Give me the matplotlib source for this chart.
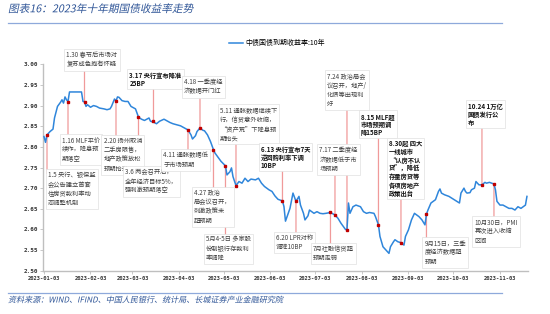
import matplotlib
matplotlib.use('Agg')
import matplotlib.pyplot as plt
import matplotlib.dates as mdates
import matplotlib.transforms as mtransforms
from matplotlib.font_manager import FontProperties
from matplotlib.textpath import TextPath
from matplotlib.patches import PathPatch
from matplotlib.lines import Line2D
import pandas as pd

plt.rcParams['font.family'] = ['Noto Sans CJK SC', 'DejaVu Sans']

# 中债国债到期收益率:10年 (%)
dates = [
    '2023-01-03', '2023-01-04', '2023-01-05', '2023-01-07', '2023-01-09', '2023-01-10', '2023-01-12',
    '2023-01-14', '2023-01-15', '2023-01-16', '2023-01-17', '2023-01-18', '2023-01-19', '2023-01-20',
    '2023-01-27', '2023-01-28', '2023-01-29', '2023-01-30', '2023-01-31', '2023-02-01', '2023-02-03',
    '2023-02-05', '2023-02-07', '2023-02-09', '2023-02-12', '2023-02-14', '2023-02-16', '2023-02-17',
    '2023-02-19', '2023-02-20', '2023-02-21', '2023-02-22', '2023-02-24', '2023-02-26', '2023-02-28',
    '2023-03-02', '2023-03-05', '2023-03-06', '2023-03-07', '2023-03-09', '2023-03-11', '2023-03-14',
    '2023-03-15', '2023-03-17', '2023-03-19', '2023-03-21', '2023-03-24', '2023-03-26', '2023-03-28',
    '2023-03-30', '2023-04-01', '2023-04-04', '2023-04-06', '2023-04-09', '2023-04-11', '2023-04-12',
    '2023-04-14', '2023-04-15', '2023-04-17', '2023-04-19', '2023-04-20', '2023-04-22', '2023-04-24',
    '2023-04-26', '2023-04-27', '2023-04-29', '2023-05-01', '2023-05-04', '2023-05-05', '2023-05-07',
    '2023-05-08', '2023-05-09', '2023-05-11', '2023-05-13', '2023-05-15', '2023-05-17', '2023-05-19',
    '2023-05-21', '2023-05-24', '2023-05-26', '2023-05-28', '2023-05-30', '2023-06-02', '2023-06-04',
    '2023-06-06', '2023-06-08', '2023-06-11', '2023-06-12', '2023-06-13', '2023-06-16', '2023-06-18',
    '2023-06-20', '2023-06-22', '2023-06-23', '2023-06-25', '2023-06-26', '2023-06-28', '2023-06-29',
    '2023-07-02', '2023-07-04', '2023-07-06', '2023-07-08', '2023-07-10', '2023-07-13', '2023-07-16',
    '2023-07-18', '2023-07-20', '2023-07-23', '2023-07-24', '2023-07-25', '2023-07-26', '2023-07-27',
    '2023-07-28', '2023-07-30', '2023-08-02', '2023-08-04', '2023-08-06', '2023-08-08', '2023-08-11',
    '2023-08-12', '2023-08-14', '2023-08-15', '2023-08-17', '2023-08-18', '2023-08-21', '2023-08-22',
    '2023-08-24', '2023-08-25', '2023-08-27', '2023-08-29', '2023-08-31', '2023-09-01', '2023-09-03',
    '2023-09-05', '2023-09-07', '2023-09-10', '2023-09-12', '2023-09-14', '2023-09-15', '2023-09-16',
    '2023-09-18', '2023-09-21', '2023-09-23', '2023-09-24', '2023-09-25', '2023-09-27', '2023-09-30',
    '2023-10-07', '2023-10-08', '2023-10-10', '2023-10-11', '2023-10-12', '2023-10-14', '2023-10-15',
    '2023-10-17', '2023-10-18', '2023-10-20', '2023-10-22', '2023-10-24', '2023-10-25', '2023-10-27',
    '2023-10-30', '2023-10-31', '2023-11-01', '2023-11-03', '2023-11-05', '2023-11-07', '2023-11-09',
    '2023-11-11', '2023-11-13', '2023-11-15', '2023-11-17', '2023-11-20', '2023-11-21',
]
yields = [
    2.825, 2.811, 2.829, 2.837, 2.843, 2.870, 2.898,
    2.908, 2.914, 2.906, 2.921, 2.914, 2.910, 2.933,
    2.933, 2.933, 2.910, 2.909, 2.898, 2.902, 2.896,
    2.900, 2.898, 2.894, 2.892, 2.890, 2.892, 2.898,
    2.916, 2.911, 2.921, 2.920, 2.912, 2.910, 2.910,
    2.898, 2.892, 2.882, 2.872, 2.867, 2.864, 2.870,
    2.862, 2.860, 2.856, 2.862, 2.867, 2.863, 2.859,
    2.856, 2.854, 2.851, 2.847, 2.841, 2.829, 2.819,
    2.827, 2.837, 2.846, 2.840, 2.839, 2.829, 2.813,
    2.793, 2.785, 2.775, 2.765, 2.754, 2.732, 2.740,
    2.749, 2.728, 2.706, 2.716, 2.712, 2.724, 2.716,
    2.722, 2.720, 2.724, 2.712, 2.704, 2.696, 2.692,
    2.681, 2.673, 2.669, 2.655, 2.620, 2.651, 2.688,
    2.668, 2.680, 2.659, 2.639, 2.623, 2.633, 2.647,
    2.639, 2.643, 2.639, 2.638, 2.639, 2.641, 2.635,
    2.627, 2.615, 2.600, 2.599, 2.664, 2.639, 2.647,
    2.655, 2.659, 2.655, 2.643, 2.639, 2.641, 2.639,
    2.631, 2.611, 2.583, 2.558, 2.554, 2.542, 2.558,
    2.570, 2.575, 2.570, 2.568, 2.562, 2.583, 2.599,
    2.623, 2.639, 2.631, 2.623, 2.611, 2.637, 2.647,
    2.664, 2.672, 2.692, 2.698, 2.688, 2.684, 2.680,
    2.664, 2.688, 2.700, 2.692, 2.688, 2.689, 2.696,
    2.700, 2.716, 2.708, 2.708, 2.714, 2.712, 2.714,
    2.710, 2.696, 2.668, 2.659, 2.659, 2.655, 2.651,
    2.651, 2.647, 2.655, 2.651, 2.659, 2.680,
]

event_dates = ['2023-01-05', '2023-01-19', '2023-01-30', '2023-02-20', '2023-03-07', '2023-03-17',
               '2023-04-09', '2023-04-17', '2023-04-26', '2023-05-04', '2023-05-11', '2023-06-11',
               '2023-06-20', '2023-07-13', '2023-07-16', '2023-07-24', '2023-08-14', '2023-08-29',
               '2023-09-15', '2023-10-22', '2023-10-30']
event_values = [2.828, 2.909, 2.909, 2.911, 2.872, 2.862, 2.841, 2.846, 2.793, 2.754, 2.706,
                2.669, 2.668, 2.641, 2.635, 2.599, 2.611, 2.568, 2.637, 2.708, 2.710]
event_labels = [
    '1.5 央行、银保监\n会公告建立首套\n住房贷款利率动\n态调整机制',
    '1.16 MLF平价\n续作，降息预\n期落空',
    '1.30 春节后市场对\n复苏成色抱有怀疑',
    '2.20 扬州取消\n二手房限售，\n地产政策放松\n预期抬升',
    '3.6 两会召开后，\n全年经济目标5%，\n强刺激预期落空',
    '3.17 央行宣布降准\n25BP',
    '4.11 通胀数据低\n于市场预期',
    '4.18 一季度经\n济数据开门红',
    '4.27 政治\n局会议召开，\n刺激政策未\n超预期',
    '5月4-5日 多家股\n份制银行存款利\n率调降',
    '5.11 通胀数据继续下\n行，信贷意外收缩，\n“资产荒”下降息预\n期抬头',
    '6.13 央行宣布7天\n逆回购利率下调\n10BP',
    '6.20 LPR对称\n调降10BP',
    '7月社融信贷超\n预期走弱',
    '7.17 二季度经\n济数据低于市\n场预期',
    '7.24 政治局会\n议召开，地产/\n化债等出现利\n好',
    '8.15 MLF超\n市场预期调\n降15BP',
    '8.30起 四大\n一线城市\n“认房不认\n贷”，降低\n存量房贷等\n各项房地产\n政策出台',
    '9月15日，三季\n度经济数据超\n预期',
    '10.24 1万亿\n国债发行公\n布',
    '10月30日，PMI\n再次进入收缩\n区间',
]

x_ticks = ['2023-01-03', '2023-02-03', '2023-03-03', '2023-04-03', '2023-05-03', '2023-06-03',
           '2023-07-03', '2023-08-03', '2023-09-03', '2023-10-03', '2023-11-03']
y_ticks = [2.50, 2.55, 2.60, 2.65, 2.70, 2.75, 2.80, 2.85, 2.90, 2.95, 3.00]

# layout of annotation boxes: text left / top in pixels, bold flag
box_layout = [
    (48, 171.5, False), (62, 136.5, False), (66.5, 51.5, False), (103.5, 137.3, False),
    (125, 168.3, False), (129.3, 71.6, True), (163.3, 151.6, False), (184, 78.3, False),
    (194, 189.3, False), (206, 235.9, False), (220, 106.6, False), (260.7, 145.6, True),
    (275.7, 233.9, False), (312.7, 244.9, False), (319.3, 146.6, False), (326.7, 72.6, False),
    (361, 112.6, True), (389, 139.9, True), (424.3, 239.3, False), (467.7, 102.6, True),
    (474.3, 218.3, False),
]

W, H = 550, 314
DPI = 100


def fx(px):
    return px / W


def fy(py):
    return 1 - py / H


fig = plt.figure(figsize=(W / DPI, H / DPI), dpi=DPI)
fig.patch.set_facecolor('white')

ax_left, ax_right, ax_top, ax_bottom = 43, 528, 64.3, 270.7
ax = fig.add_axes([fx(ax_left), fy(ax_bottom), (ax_right - ax_left) / W, (ax_bottom - ax_top) / H])

x = pd.to_datetime(dates)
line, = ax.plot(x, yields, color='#2F86DB', lw=1.1, zorder=3)

start = mdates.date2num(pd.Timestamp('2023-01-03'))
ax.set_xlim(start - 0.67, start + 322.7)
ax.set_ylim(2.50, 3.00)
ax.set_yticks(y_ticks)
ax.set_yticklabels(['%.2f' % v for v in y_ticks])
ax.set_xticks(pd.to_datetime(x_ticks))
ax.set_xticklabels(x_ticks)

for s in ['top', 'right']:
    ax.spines[s].set_visible(False)
for s in ['left', 'bottom']:
    ax.spines[s].set_color('#BFBFBF')
    ax.spines[s].set_linewidth(1.0)
ax.tick_params(axis='both', direction='out', length=2, width=0.6, color='#BFBFBF', pad=1.5)
for lab in ax.get_yticklabels():
    lab.set_fontfamily('DejaVu Sans Mono')
    lab.set_fontsize(4.3)
    lab.set_fontweight('bold')
    lab.set_color('#333333')
for lab in ax.get_xticklabels():
    lab.set_fontfamily('DejaVu Sans Mono')
    lab.set_fontsize(3.9)
    lab.set_fontweight('bold')
    lab.set_color('#333333')

# event markers and red guide lines
blend = mtransforms.blended_transform_factory(ax.transData, fig.transFigure)
ev_x = mdates.date2num(pd.to_datetime(event_dates))
for d, v, lab, (lx, ty, bold) in zip(ev_x, event_values, event_labels, box_layout):
    ax.annotate('', xy=(d, v), xycoords='data', xytext=(d, fy(ty + 2)), textcoords=blend,
                arrowprops=dict(arrowstyle='-', color='#F09A9A', lw=0.9, shrinkA=0, shrinkB=0),
                annotation_clip=False, zorder=2)
    fig.text(fx(lx), fy(ty), lab, ha='left', va='top', fontsize=4.5, linespacing=1.2,
             color='#111111' if bold else '#404040', fontweight='bold' if bold else 'normal',
             bbox=dict(boxstyle='square,pad=0.35', fc='white', ec='#E0E0E0', lw=0.5), zorder=5)
ax.plot(ev_x, event_values, 's', color='#C00000', ms=1.8, zorder=4)

# legend
ax.legend([Line2D([0], [0], color='#2F86DB', lw=1.1)], ['中债国债到期收益率:10年'],
          loc='center left', bbox_to_anchor=(fx(229), fy(43)), bbox_transform=fig.transFigure,
          frameon=False, fontsize=5.0, handlelength=2.0, handletextpad=0.3, borderpad=0,
          borderaxespad=0)


def slanted_text(s, x_px, y_base_px, size, color):
    fp = FontProperties(family='Noto Sans CJK SC', size=size)
    tp = TextPath((0, 0), s, prop=fp)
    tr = mtransforms.Affine2D().skew_deg(12, 0).scale(DPI / 72).translate(x_px, H - y_base_px)
    patch = PathPatch(tp, fc=color, ec='none', transform=tr)
    fig.add_artist(patch)


slanted_text('图表16：2023年十年期国债收益率走势', 8, 12.3, 7.7, '#2F5597')
fig.add_artist(Line2D([fx(8), fx(502)], [fy(23.3), fy(23.3)], transform=fig.transFigure,
                      color='#8EA9DB', lw=0.9))
fig.add_artist(Line2D([fx(8), fx(502)], [fy(292.7), fy(292.7)], transform=fig.transFigure,
                      color='#8EA9DB', lw=0.9))
slanted_text('资料来源：WIND、IFIND、中国人民银行、统计局、长城证券产业金融研究院', 8, 302.5, 5.8, '#2F5597')

fig.savefig('out.png', dpi=DPI)
